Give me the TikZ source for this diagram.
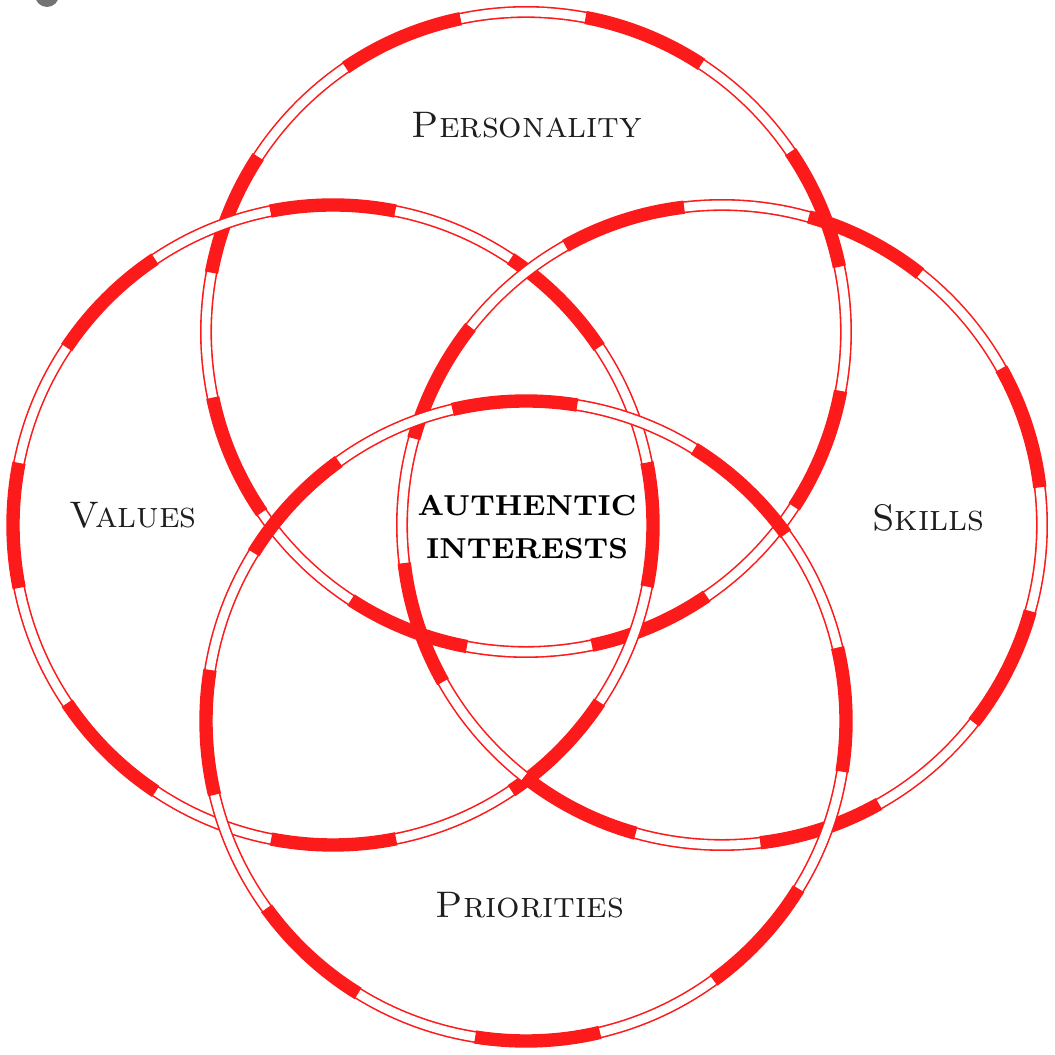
\documentclass[tikz,border=0pt]{standalone}
\usetikzlibrary{calc}
\definecolor{hoopred}{RGB}{252,26,26}
\definecolor{ink}{RGB}{30,30,30}

\begin{document}
\begin{tikzpicture}[x=0.01cm,y=0.01cm,
    hoop/.style={draw=hoopred,double=white,double distance=2.5pt,line width=0.45pt},
    band/.style={draw=hoopred,line width=3.8pt},
    lbl/.style={text=ink,font=\fontsize{10.5}{12}\selectfont\scshape},
    core/.style={text=black,font=\fontsize{8.2}{12.4}\selectfont\bfseries,align=center}]
    \useasboundingbox (0,0) rectangle (1055,1055);

    \begin{scope}
      \clip (0,0) rectangle (1055,1055);
      \fill[black!55] (47,1060) circle (12);
    \end{scope}

    \foreach \cx/\cy/\ph in {526/723/33.25,333/530/11.25,722/530/38.25,526/334/9.25}
             {
               \draw[hoop] (\cx,\cy) circle (320);
               \pgfmathsetmacro\dph{\ph*2*pi*3.2/360}
               \draw[band,dash pattern=on 1.2566cm off 1.2566cm,dash phase=\dph cm]
                  (\cx,\cy) circle (320);
             }

    \node[lbl] (personality) at (527,930) {Personality};
    \node[lbl] (values)      at (133,540) {Values};
    \node[lbl] (skills)      at (928,537) {Skills};
    \node[lbl] (priorities)  at (530,150) {Priorities};
    \node[core] (authentic)  at (527,528) {AUTHENTIC\\INTERESTS};
\end{tikzpicture}
\end{document}
